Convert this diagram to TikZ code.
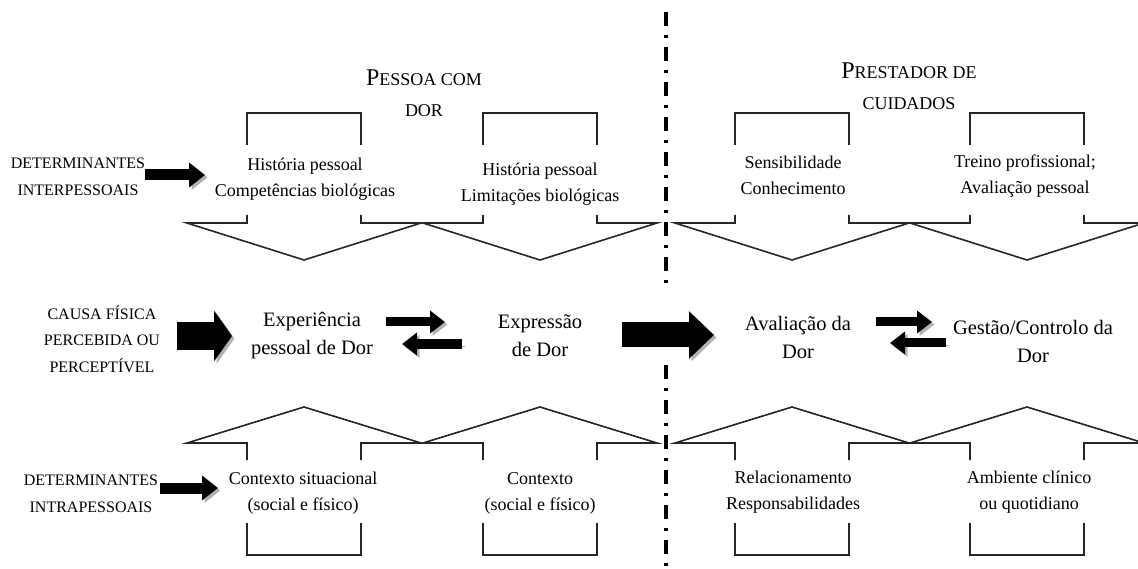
\documentclass[tikz,border=0pt]{standalone}
\usepackage{fontspec}
\setmainfont{Liberation Serif}
\usetikzlibrary{arrows.meta}

\tikzset{
  outl/.style={line width=1.6pt, black!85, line join=miter},
  lbl/.style={align=center, inner sep=0pt, font=\fontsize{18}{26}\selectfont},
  midlbl/.style={align=center, inner sep=0pt, font=\fontsize{20.5}{28}\selectfont},
  caplbl/.style={align=center, inner sep=0pt, font=\fontsize{16}{26.5}\selectfont},
  titlbl/.style={align=center, inner sep=0pt, font=\fontsize{18}{31}\selectfont},
  fatarrow/.style n args={3}{line width=#1, -{Triangle[length=#2,width=#3]},
    preaction={draw=black!30, transform canvas={shift={(2.5pt,-2.5pt)}}}},
  splitline/.style={line width=4pt, dash pattern=on 14pt off 9pt on 3pt off 9pt}
}
\newcommand{\bigP}[1]{{\fontsize{24}{31}\selectfont #1}}

\begin{document}
\begin{tikzpicture}[x=1pt, y=-1pt]
  \useasboundingbox (0,0) rectangle (1138,569);

  % outline block arrows, top row pointing down, bottom row pointing up
  \foreach \c in {304,540,792,1027} {
    \draw[outl] ({\c-57},145) |- ({\c+57},113) -- ({\c+57},145);
    \draw[outl] ({\c-57},215) |- ({\c-117},223) -- (\c,260) -- ({\c+117},223) -| ({\c+57},215);
    \draw[outl] ({\c-57},460) |- ({\c-117},443) -- (\c,407) -- ({\c+117},443) -| ({\c+57},460);
    \draw[outl] ({\c-57},523) |- ({\c+57},555) -- ({\c+57},523);
  }

  % dividing line
  \draw[splitline] (666,12) -- (666,290);
  \draw[splitline] (666,365) -- (666,569);

  % titles
  \node[titlbl] (pessoa) at (424,93) {\bigP{P}ESSOA COM\\DOR};
  \node[titlbl] (prestador) at (909,86) {\bigP{P}RESTADOR DE\\CUIDADOS};

  % top row
  \node[caplbl] (detinter) at (78,177) {DETERMINANTES\\INTERPESSOAIS};
  \node[lbl] (histcomp) at (305,179) {História pessoal\\Competências biológicas};
  \node[lbl] (histlim) at (540,184) {História pessoal\\Limitações biológicas};
  \node[lbl] (sensib) at (793,175) {Sensibilidade\\Conhecimento};
  \node[lbl] (treino) at (1025,176) {Treino profissional;\\Avaliação pessoal};

  % middle row
  \node[caplbl] (causa) at (102,339) {CAUSA FÍSICA\\PERCEBIDA OU\\PERCEPTÍVEL};
  \node[midlbl] (exper) at (312,336) {Experiência\\pessoal de Dor};
  \node[midlbl] (expres) at (540,336) {Expressão\\de Dor};
  \node[midlbl] (avalia) at (798,337) {Avaliação da\\Dor};
  \node[midlbl] (gestao) at (1033,341) {Gestão/Controlo da\\Dor};

  % bottom row
  \node[caplbl] (detintra) at (91,494) {DETERMINANTES\\INTRAPESSOAIS};
  \node[lbl] (contsit) at (303,493) {Contexto situacional\\(social e físico)};
  \node[lbl] (cont) at (540,493) {Contexto\\(social e físico)};
  \node[lbl] (relac) at (793,492) {Relacionamento\\Responsabilidades};
  \node[lbl] (ambiente) at (1029,492) {Ambiente clínico\\ou quotidiano};

  % ends of the black arrows
  \coordinate (inter1) at (145,175);
  \coordinate (inter2) at (205,175);
  \coordinate (intra1) at (160,488);
  \coordinate (intra2) at (218,488);
  \coordinate (causa1) at (177,336);
  \coordinate (causa2) at (232,336);
  \coordinate (expfwd1) at (386,322);
  \coordinate (expfwd2) at (445,322);
  \coordinate (expbck1) at (462,344);
  \coordinate (expbck2) at (402,344);
  \coordinate (aval1) at (622,335);
  \coordinate (aval2) at (714,335);
  \coordinate (gesfwd1) at (876,322);
  \coordinate (gesfwd2) at (932,322);
  \coordinate (gesbck1) at (946,343);
  \coordinate (gesbck2) at (890,343);

  \draw[fatarrow={11pt}{16pt}{24pt}] (inter1) -- (inter2);
  \draw[fatarrow={11pt}{16pt}{24pt}] (intra1) -- (intra2);
  \draw[fatarrow={27pt}{18pt}{50pt}] (causa1) -- (causa2);
  \draw[fatarrow={9pt}{15pt}{22pt}] (expfwd1) -- (expfwd2);
  \draw[fatarrow={9pt}{15pt}{22pt}] (expbck1) -- (expbck2);
  \draw[fatarrow={25pt}{25pt}{46pt}] (aval1) -- (aval2);
  \draw[fatarrow={9pt}{15pt}{22pt}] (gesfwd1) -- (gesfwd2);
  \draw[fatarrow={9pt}{15pt}{22pt}] (gesbck1) -- (gesbck2);
\end{tikzpicture}
\end{document}
